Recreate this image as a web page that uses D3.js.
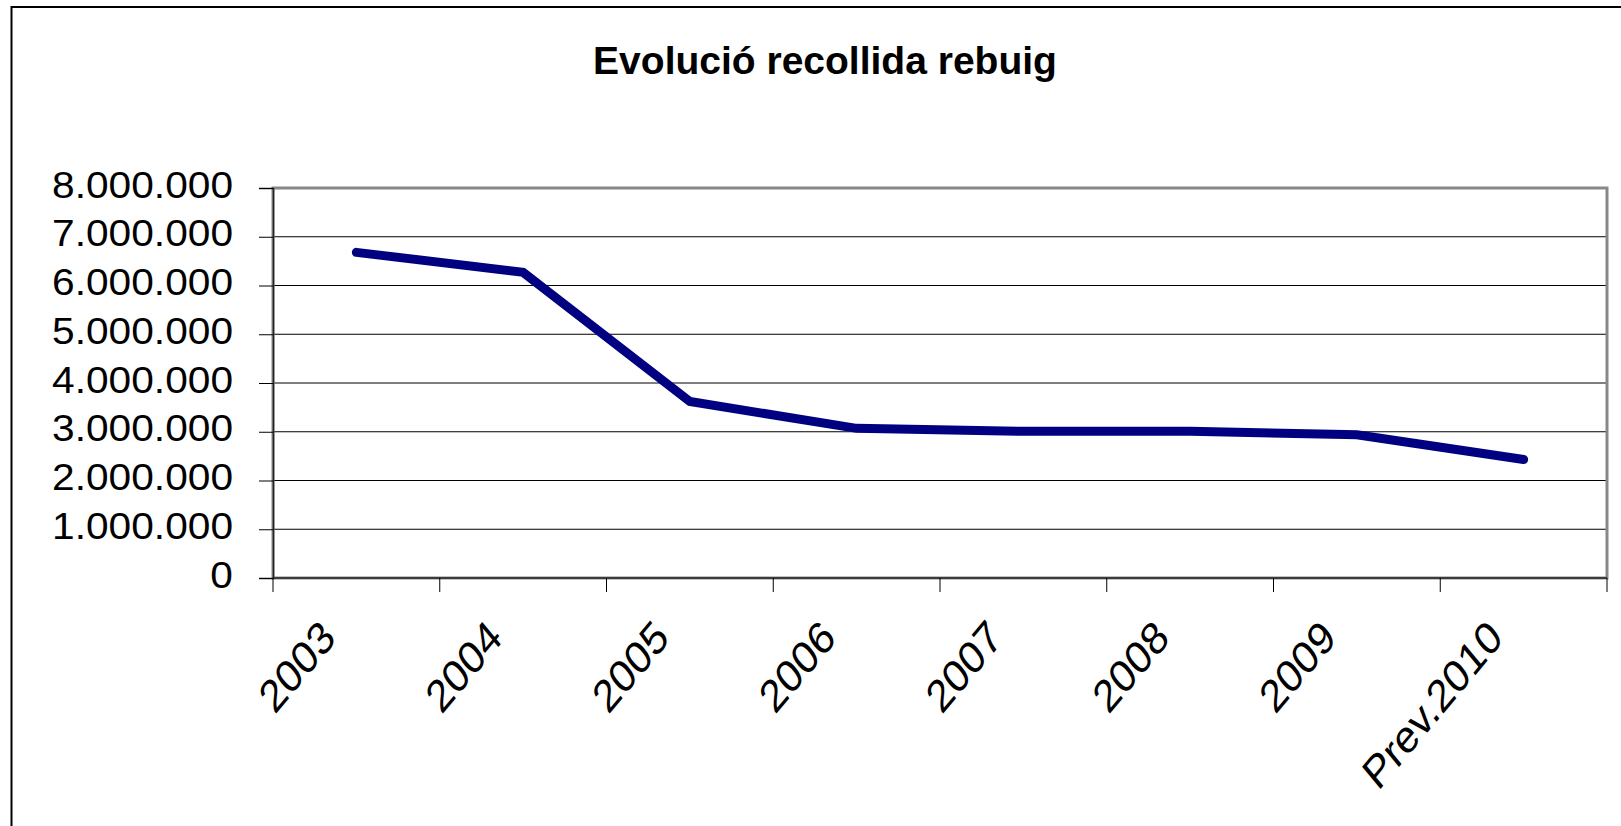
<!DOCTYPE html>
<html>
<head>
<meta charset="utf-8">
<script src="https://cdn.jsdelivr.net/npm/d3@7"></script>
<style>
  html, body { margin: 0; padding: 0; background: #fff; }
  svg { display: block; }
  text { font-family: "Liberation Sans", Arial, sans-serif; fill: #000; }
</style>
</head>
<body>
<svg id="chart" width="1621" height="826"></svg>
<script>
const title = "Evolució recollida rebuig";
const categories = ["2003", "2004", "2005", "2006", "2007", "2008", "2009", "Prev.2010"];
const values = [6680000, 6270000, 3620000, 3070000, 3010000, 3010000, 2940000, 2430000];
const yTicks = [0, 1000000, 2000000, 3000000, 4000000, 5000000, 6000000, 7000000, 8000000];

const W = 1621, H = 826;
const plot = { left: 273, right: 1607, top: 188, bottom: 578 };

const svg = d3.select("#chart");
svg.append("rect").attr("width", W).attr("height", H).attr("fill", "#fff");

// outer chart border (top and left visible)
svg.append("path")
  .attr("d", `M11.5,${H} L11.5,7 L${W},7`)
  .attr("fill", "none").attr("stroke", "#000").attr("stroke-width", 2);

const locale = d3.formatLocale({ decimal: ",", thousands: ".", grouping: [3], currency: ["", " €"] });
const fmt = locale.format(",d");

const x = d3.scaleBand().domain(categories).range([plot.left, plot.right]).paddingInner(0).paddingOuter(0);
const y = d3.scaleLinear().domain([0, 8000000]).range([plot.bottom, plot.top]);

// gridlines
svg.append("g").selectAll("line").data(yTicks.filter(d => d > 0 && d < 8000000)).join("line")
  .attr("x1", plot.left).attr("x2", plot.right)
  .attr("y1", d => y(d)).attr("y2", d => y(d))
  .attr("stroke", "#000").attr("stroke-width", 1);

// plot area border (gray)
svg.append("rect")
  .attr("x", plot.left).attr("y", plot.top)
  .attr("width", plot.right - plot.left).attr("height", plot.bottom - plot.top)
  .attr("fill", "none").attr("stroke", "#888").attr("stroke-width", 3);

// Y axis
const yAxis = d3.axisLeft(y).tickValues(yTicks).tickFormat(fmt).tickSize(14).tickPadding(0);
const gy = svg.append("g").attr("transform", `translate(${plot.left},0)`).call(yAxis);
gy.select(".domain").attr("stroke", "#222").attr("stroke-width", 1.5);
gy.selectAll(".tick line").attr("stroke", "#000").attr("stroke-width", 1);
gy.selectAll(".tick text")
  .attr("x", 0).attr("dy", null).attr("y", 0)
  .attr("font-size", 36)
  .attr("text-anchor", "end")
  .attr("transform", "translate(-40,9) scale(1.13,1)")
  .style("font-family", '"Liberation Sans", Arial, sans-serif');

// X axis: ticks at band boundaries
const boundaries = categories.map(c => x(c)).concat([x(categories[categories.length - 1]) + x.bandwidth()]);
const gx = svg.append("g");
gx.append("line")
  .attr("x1", plot.left).attr("x2", plot.right)
  .attr("y1", plot.bottom).attr("y2", plot.bottom)
  .attr("stroke", "#222").attr("stroke-width", 1.5);
gx.selectAll("line.tk").data(boundaries).join("line").attr("class", "tk")
  .attr("x1", d => d).attr("x2", d => d)
  .attr("y1", plot.bottom).attr("y2", plot.bottom + 14)
  .attr("stroke", "#000").attr("stroke-width", 1);
gx.selectAll("text").data(categories).join("text")
  .attr("text-anchor", "end")
  .attr("font-size", 38)
  .attr("transform", d => `translate(${x(d) + x.bandwidth() / 2 - 19},${plot.bottom + 62}) scale(1,1.2) rotate(-45) scale(1.05,1)`)
  .text(d => d);

// line
const line = d3.line()
  .x((d, i) => x(categories[i]) + x.bandwidth() / 2)
  .y(d => y(d));
svg.append("path")
  .datum(values)
  .attr("d", line)
  .attr("fill", "none")
  .attr("stroke", "#000080")
  .attr("stroke-width", 9)
  .attr("stroke-linecap", "round")
  .attr("stroke-linejoin", "miter");

// title
svg.append("text")
  .attr("transform", "translate(825,74)")
  .attr("text-anchor", "middle")
  .attr("font-size", 39)
  .attr("font-weight", "bold")
  .text(title);
</script>
</body>
</html>
